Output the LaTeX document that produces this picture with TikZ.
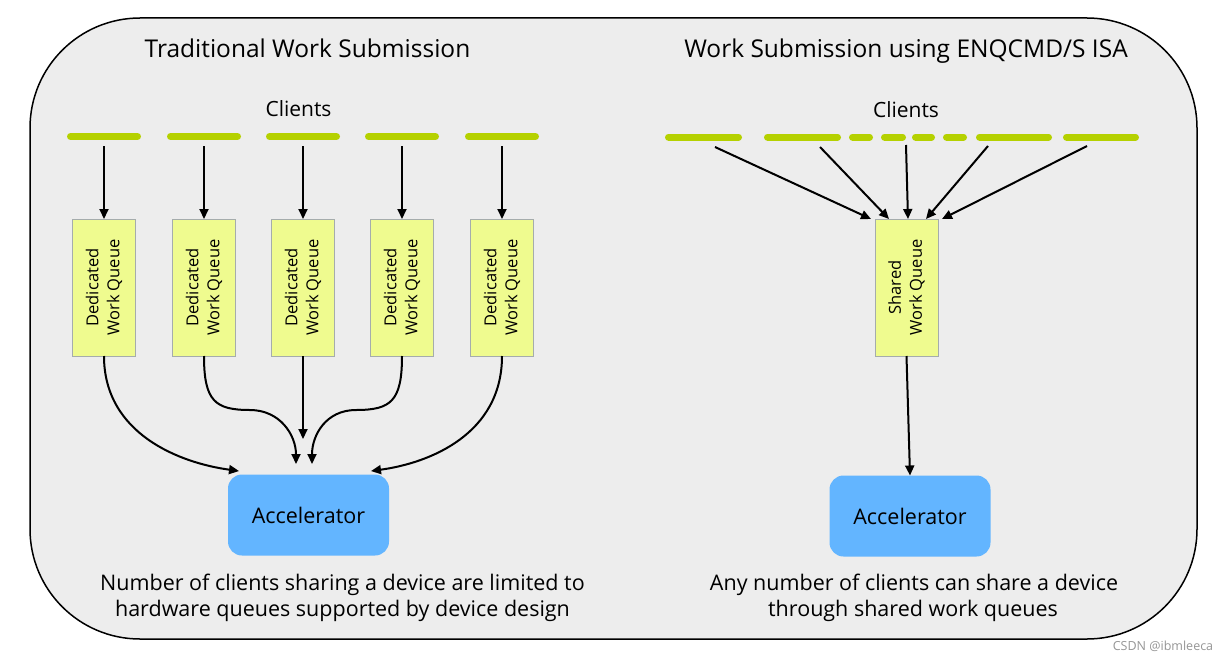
\documentclass[tikz,border=0pt]{standalone}
\usepackage{fontspec}
\setmainfont{Open Sans}
\usetikzlibrary{arrows.meta,calc}
\definecolor{barcol}{RGB}{181,209,0}
\definecolor{qfill}{RGB}{239,251,143}
\definecolor{qborder}{RGB}{165,172,172}
\definecolor{acccol}{RGB}{99,181,255}
\definecolor{bgcol}{RGB}{237,237,237}
\definecolor{wmcol}{RGB}{150,150,150}
\begin{document}
\begin{tikzpicture}[x=1pt,y=-1pt,
  every node/.style={inner sep=0pt, outer sep=0pt},
  clientbar/.style={line width=7pt, line cap=round, draw=barcol},
  queue/.style={draw=qborder, line width=1pt, fill=qfill, minimum width=63pt, minimum height=137pt},
  qtext/.style={rotate=90, font=\fontsize{16.5}{21}\selectfont, align=center},
  acc/.style={fill=acccol, rounded corners=14pt, minimum width=161pt, minimum height=81pt},
  acctext/.style={font=\fontsize{21.5}{26}\selectfont},
  title/.style={anchor=base, font=\fontsize{24.5}{30}\selectfont},
  clients/.style={anchor=base, font=\fontsize{21}{26}\selectfont},
  note/.style={anchor=base, font=\fontsize{21.5}{27}\selectfont},
  arr/.style={line width=2pt, -{Triangle[length=10pt,width=9pt]}},
]
\useasboundingbox (0,0) rectangle (1223,661);
\fill[white] (0,0) rectangle (1223,661);
% outer panel
\draw[fill=bgcol, line width=1.5pt, rounded corners=110pt] (30,18) rectangle (1197,639);
\node[anchor=base, text=wmcol, font=\fontsize{12.5}{15}\selectfont] (wm) at (1163,650) {CSDN @ibmleeca};

% ---------------- left half ----------------
\node[title] (ltitle) at (307.5,58) {Traditional Work Submission};
\node[clients] (lclients) at (298.5,116) {Clients};

\foreach \i/\x in {1/104,2/204,3/303,4/402,5/502}{
  \draw[clientbar] (\x-33.5,136.5) -- (\x+33.5,136.5);
  \coordinate (lc\i) at (\x,146);
  \node[queue] (lq\i) at (\x,287.5) {};
  \node[qtext] (lqt\i) at (lq\i.center) {Dedicated\\Work Queue};
  \draw[arr] (lc\i) -- (lq\i.north);
}

\node[acc] (lacc) at (308.5,515) {};
\node[acctext] (lacct) at (lacc.center) {Accelerator};

\coordinate (le1) at (239,471);
\coordinate (le2) at (296,464);
\coordinate (le3) at (303,439);
\coordinate (le4) at (312,464);
\coordinate (le5) at (371,471);

\draw[arr] (lq1.south) .. controls ($(lq1.south)+(0,78)$) and (180,463) .. (le1);
\draw[arr] (lq2.south) .. controls ($(lq2.south)+(0,45)$) and (215,410) .. (250,410)
   .. controls (280,410) and (296,435) .. (le2);
\draw[arr] (lq3.south) -- (le3);
\draw[arr] (lq4.south) .. controls ($(lq4.south)+(0,45)$) and (391,410) .. (356,410)
   .. controls (326,410) and (312,435) .. (le4);
\draw[arr] (lq5.south) .. controls ($(lq5.south)+(0,78)$) and (430,463) .. (le5);

\node[note] (lnote1) at (342.5,590) {Number of clients sharing a device are limited to};
\node[note] (lnote2) at (342.5,616) {hardware queues supported by device design};

% ---------------- right half ----------------
\node[title] (rtitle) at (906,58) {Work Submission using ENQCMD/S ISA};
\node[clients] (rclients) at (906,117) {Clients};

\foreach \a/\b in {665/742,764/841,849/873,881/906,912/935,943/967,976/1052,1063/1139}{
  \draw[clientbar] (\a+3.5,137) -- (\b-3.5,137);
}

\node[queue] (rq) at (906.5,287.5) {};
\node[qtext] (rqt) at (rq.center) {Shared\\Work Queue};

\coordinate (rc1) at (715,147);
\coordinate (rc2) at (820,147);
\coordinate (rc3) at (906,145);
\coordinate (rc4) at (988,146);
\coordinate (rc5) at (1087,146);
\coordinate (re1) at (871,219);
\coordinate (re2) at (889,219);
\coordinate (re3) at (908,219);
\coordinate (re4) at (926,219);
\coordinate (re5) at (942,219);
\foreach \i in {1,...,5}{ \draw[arr] (rc\i) -- (re\i); }

\node[acc] (racc) at (910,516) {};
\node[acctext] (racct) at (racc.center) {Accelerator};
\draw[arr] (rq.south) -- (racc.north);

\node[note] (rnote1) at (914,590) {Any number of clients can share a device};
\node[note] (rnote2) at (913,616) {through shared work queues};
\end{tikzpicture}
\end{document}
